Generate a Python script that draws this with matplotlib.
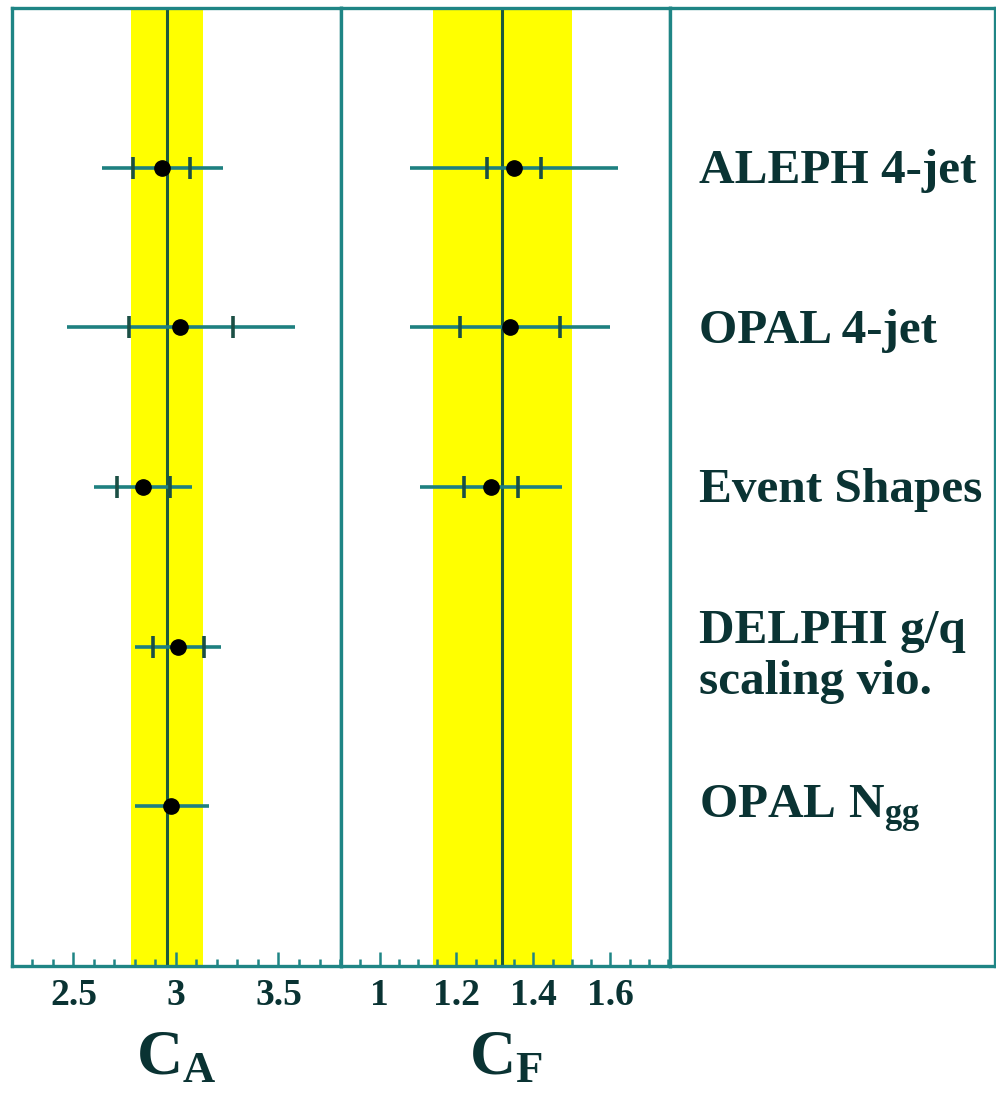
import matplotlib.pyplot as plt
import numpy as np
from matplotlib.ticker import MultipleLocator

plt.rcParams['font.family'] = ['Liberation Serif', 'DejaVu Serif']
plt.rcParams['font.weight'] = 'bold'
plt.rcParams['axes.labelweight'] = 'bold'
plt.rcParams['mathtext.fontset'] = 'custom'
plt.rcParams['mathtext.rm'] = 'Liberation Serif:bold'
plt.rcParams['mathtext.bf'] = 'Liberation Serif:bold'
plt.rcParams['mathtext.it'] = 'Liberation Serif:bold'

# Messungen (von oben nach unten)
labels = ['ALEPH 4-jet', 'OPAL 4-jet', 'Event Shapes',
          'DELPHI g/q\nscaling vio.', r'OPAL N$_{\mathbf{gg}}$']
ypos = [5, 4, 3, 2, 1]
label_y = [4.98, 3.98, 2.98, 1.94, 0.98]

# C_A
ca = [2.93, 3.02, 2.84, 3.01, 2.975]
ca_tot_lo = [2.64, 2.47, 2.60, 2.80, 2.80]
ca_tot_hi = [3.23, 3.58, 3.08, 3.22, 3.16]
ca_stat_lo = [2.79, 2.77, 2.71, 2.89, np.nan]
ca_stat_hi = [3.07, 3.28, 2.97, 3.135, np.nan]
ca_mean = 2.955
ca_band = (2.78, 3.13)

# C_F (nur die ersten drei)
cf = [1.35, 1.34, 1.29]
cf_tot_lo = [1.08, 1.08, 1.105]
cf_tot_hi = [1.62, 1.60, 1.475]
cf_stat_lo = [1.28, 1.21, 1.22]
cf_stat_hi = [1.42, 1.47, 1.36]
cf_mean = 1.318
cf_band = (1.14, 1.50)

frame_col = '#1f8585'
line_col = '#1e8080'
tick_col = '#1b4f45'
text_col = '#0a3333'

fig = plt.figure(figsize=(9.96, 10.93), dpi=100)
bottom, top = 0.1162, 0.9927
h = top - bottom
ax1 = fig.add_axes([0.012, bottom, 0.3304, h])
ax2 = fig.add_axes([0.3424, bottom, 0.3303, h])
ax3 = fig.add_axes([0.6727, bottom, 0.3263, h])


def panel(ax, vals, lo, hi, slo, shi, mean, band, xlim, major, minor, xlabel):
    ax.set_xlim(*xlim)
    ax.set_ylim(0, 6)
    ax.axvspan(band[0], band[1], color='#ffff00', zorder=0, lw=0)
    ax.axvline(mean, color='#1d5a3c', lw=2.2, zorder=1)
    n = len(vals)
    ys = ypos[:n]
    ax.hlines(ys, lo, hi, color=line_col, lw=2.6, zorder=2)
    ax.plot(slo, ys, ls='none', marker='|', ms=16, mew=2.6, color=tick_col, zorder=3)
    ax.plot(shi, ys, ls='none', marker='|', ms=16, mew=2.6, color=tick_col, zorder=3)
    ax.plot(vals, ys, ls='none', marker='o', ms=11, color='black', zorder=4)
    ax.xaxis.set_major_locator(MultipleLocator(major))
    ax.xaxis.set_minor_locator(MultipleLocator(minor))
    ax.xaxis.set_major_formatter(lambda v, p: f'{v:g}')
    ax.tick_params(axis='x', which='major', direction='in', length=10, width=1.8,
                   colors=frame_col, labelcolor=text_col, labelsize=27, pad=9)
    ax.tick_params(axis='x', which='minor', direction='in', length=5, width=1.8,
                   colors=frame_col)
    ax.set_yticks([])
    ax.set_xlabel(xlabel, fontsize=46, fontweight='bold', color=text_col, labelpad=12)
    for s in ax.spines.values():
        s.set_color(frame_col)
        s.set_linewidth(2.4)


panel(ax1, ca, ca_tot_lo, ca_tot_hi, ca_stat_lo, ca_stat_hi, ca_mean, ca_band,
      (2.2, 3.805), 0.5, 0.1, r'C$_{\mathbf{A}}$')
panel(ax2, cf, cf_tot_lo, cf_tot_hi, cf_stat_lo, cf_stat_hi, cf_mean, cf_band,
      (0.9, 1.755), 0.2, 0.05, r'C$_{\mathbf{F}}$')

ax3.set_xlim(0, 1)
ax3.set_ylim(0, 6)
ax3.set_xticks([])
ax3.set_yticks([])
for s in ax3.spines.values():
    s.set_color(frame_col)
    s.set_linewidth(2.4)
for lab, y in zip(labels, label_y):
    ax3.text(0.09, y, lab, fontsize=35.5, fontweight='bold', color=text_col,
             va='center', ha='left', linespacing=1.2)

fig.savefig('out.png', dpi=100)
